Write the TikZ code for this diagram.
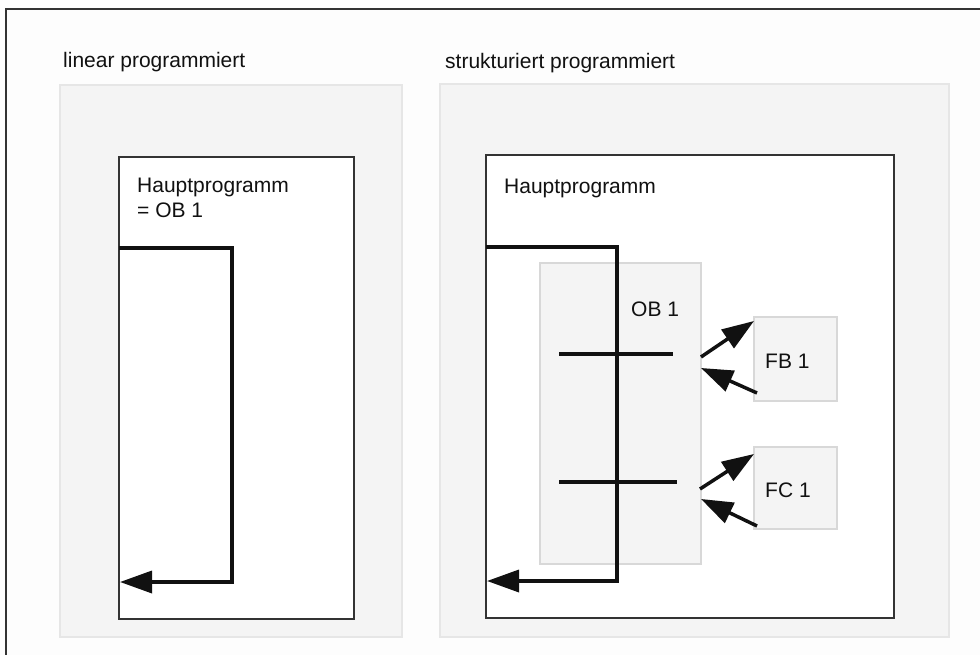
\documentclass[tikz,border=0pt]{standalone}
\usepackage{fontspec}
\setmainfont{Liberation Sans}
\usetikzlibrary{arrows.meta}
\definecolor{bg}{HTML}{FDFDFD}
\definecolor{panelfill}{HTML}{F4F4F4}
\definecolor{paneldraw}{HTML}{E6E6E6}
\definecolor{boxdraw}{HTML}{333333}
\definecolor{obdraw}{HTML}{D8D8D8}
\definecolor{ink}{HTML}{111111}
\tikzset{
  panel/.style={draw=paneldraw, fill=panelfill, line width=1.2pt, inner sep=0pt, outer sep=0pt, anchor=north west},
  mainbox/.style={draw=boxdraw, fill=white, line width=2pt, inner sep=0pt, outer sep=0pt, anchor=north west},
  subbox/.style={draw=obdraw, fill=panelfill, line width=1.5pt, inner sep=0pt, outer sep=0pt, anchor=north west},
  lbl/.style={anchor=base west, inner sep=0pt, text=ink, font=\fontsize{21}{25}\selectfont},
  flow/.style={line width=3.5pt, draw=ink},
  bighead/.tip={Triangle[length=32pt,width=22pt]},
}
\begin{document}
\begin{tikzpicture}[x=1pt,y=-1pt]
\useasboundingbox (0,0) rectangle (980,655);
\fill[bg] (0,0) rectangle (980,655);
% outer frame (open to the right and bottom)
\coordinate (frameBL) at (6,655);
\coordinate (frameTL) at (6,9);
\coordinate (frameTR) at (980,9);
\draw[line width=2pt, draw=boxdraw] (frameBL) -- (frameTL) -- (frameTR);

% titles
\node[lbl] (tlin) at (63,68) {linear programmiert};
\node[lbl] (tstr) at (445,69) {strukturiert programmiert};

% panels
\node[panel, minimum width=342pt, minimum height=552pt] (pL) at (60,85) {};
\node[panel, minimum width=509pt, minimum height=553pt] (pR) at (440,84) {};

% main boxes
\node[mainbox, minimum width=235pt, minimum height=462pt] (mL) at (119,157) {};
\node[mainbox, minimum width=408pt, minimum height=463pt] (mR) at (486,155) {};

\node[lbl] (hL) at (137,193) {Hauptprogramm};
\node[lbl] (oL) at (137,218) {= OB 1};
\node[lbl] (hR) at (504,194) {Hauptprogramm};

% OB1, FB1, FC1
\node[subbox, minimum width=161pt, minimum height=301pt] (ob) at (540,263) {};
\node[lbl] (obt) at (631,316) {OB 1};
\node[subbox, minimum width=83pt, minimum height=84pt] (fb) at (754,317) {};
\node[lbl] (fbt) at (765,368) {FB 1};
\node[subbox, minimum width=83pt, minimum height=82pt] (fc) at (754,447) {};
\node[lbl] (fct) at (765,497) {FC 1};

% left loop
\coordinate (lA) at (119,248);
\coordinate (lB) at (232,248);
\coordinate (lC) at (232,582);
\coordinate (lD) at (120,582);
\draw[flow, -{bighead}] (lA) -- (lB) -- (lC) -- (lD);

% right loop
\coordinate (rA) at (486,247);
\coordinate (rB) at (617,247);
\coordinate (rC) at (617,581);
\coordinate (rD) at (487,581);
\draw[flow, -{bighead}] (rA) -- (rB) -- (rC) -- (rD);

% call lines
\coordinate (c1a) at (559,354);
\coordinate (c1b) at (673,354);
\coordinate (c2a) at (559,482);
\coordinate (c2b) at (677,482);
\draw[flow] (c1a) -- (c1b);
\draw[flow] (c2a) -- (c2b);

% call / return arrows
\coordinate (a1s) at (701,357);
\coordinate (a1e) at (754,321);
\coordinate (a2s) at (757,393);
\coordinate (a2e) at (701,368);
\coordinate (a3s) at (700,489);
\coordinate (a3e) at (754,454);
\coordinate (a4s) at (757,526);
\coordinate (a4e) at (701,499);
\draw[flow, -{bighead}] (a1s) -- (a1e);
\draw[flow, -{bighead}] (a2s) -- (a2e);
\draw[flow, -{bighead}] (a3s) -- (a3e);
\draw[flow, -{bighead}] (a4s) -- (a4e);
\end{tikzpicture}
\end{document}
